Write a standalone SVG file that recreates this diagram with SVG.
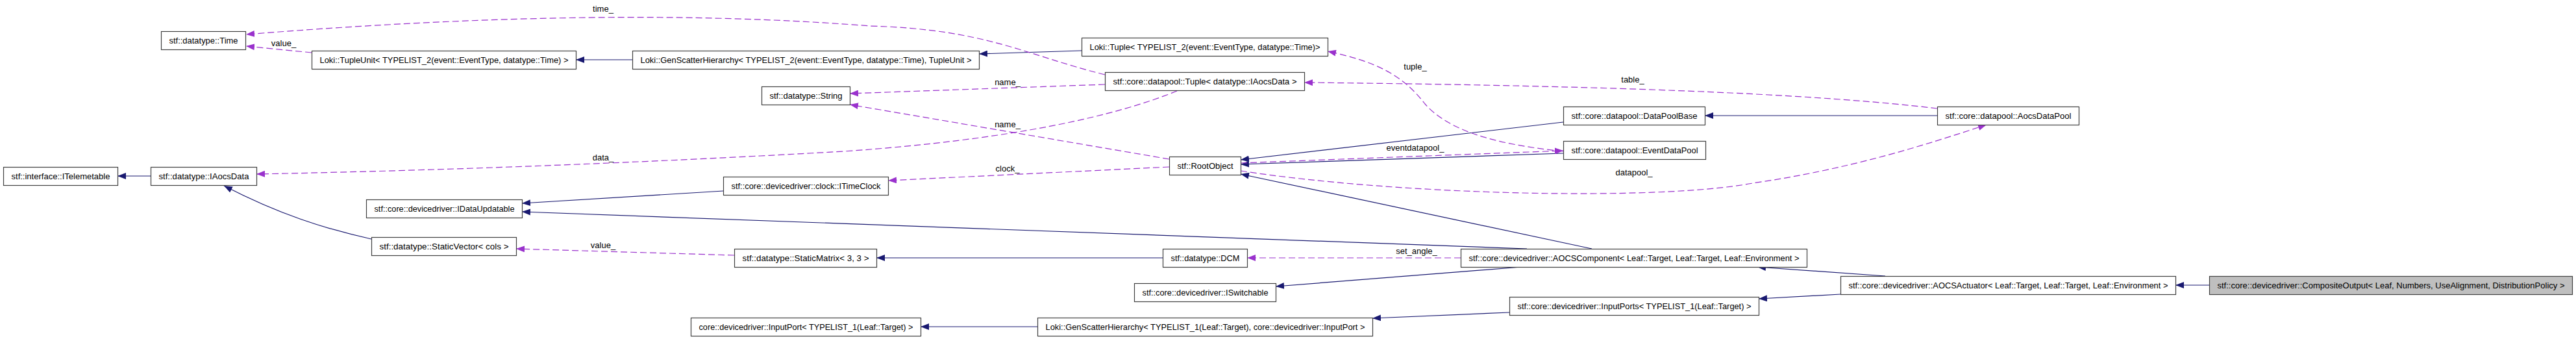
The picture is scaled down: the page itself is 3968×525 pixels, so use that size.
<svg xmlns="http://www.w3.org/2000/svg" width="3968" height="525" viewBox="0 0 3968 525">
<style>
.node rect{fill:#ffffff;stroke:#404040;stroke-width:1.2}
.node.focus rect{fill:#bfbfbf}
.node text{font-family:"Liberation Sans",Arial,sans-serif;font-size:13px;fill:#000;text-anchor:middle}
.lbl{font-family:"Liberation Sans",Arial,sans-serif;font-size:13px;fill:#000;text-anchor:middle}
.inh{fill:none;stroke:#191970;stroke-width:1.2;marker-end:url(#ah)}
.use{fill:none;stroke:#9a32cd;stroke-width:1.2;stroke-dasharray:10,5;marker-end:url(#au)}
</style>
<defs>
<marker id="ah" markerUnits="userSpaceOnUse" markerWidth="13" markerHeight="10" viewBox="0 0 13 10" refX="13" refY="5" orient="auto"><path d="M0,0 L13,5 L0,10 z" fill="#191970"/></marker>
<marker id="au" markerUnits="userSpaceOnUse" markerWidth="13" markerHeight="10" viewBox="0 0 13 10" refX="13" refY="5" orient="auto"><path d="M0,0 L13,5 L0,10 z" fill="#9a32cd"/></marker>
</defs>
<rect width="3968" height="525" fill="#ffffff"/>
<g id="edges">
<path class="inh" d="M232,271 L181,271"/>
<path class="inh" d="M572,368 C500,352 430,330 345,286"/>
<path class="inh" d="M974,92 L887,92"/>
<path class="inh" d="M1666,78 L1508,83"/>
<path class="inh" d="M1114,294 L804,313"/>
<path class="inh" d="M2352,383 Q1700,362 804,326"/>
<path class="inh" d="M1791,397 L1350,397"/>
<path class="inh" d="M2343,411 L1965,441"/>
<path class="inh" d="M2408,188 L1911,246"/>
<path class="inh" d="M2408,236 L1911,253"/>
<path class="inh" d="M2452,383 L1911,268"/>
<path class="inh" d="M2984,178 L2626,178"/>
<path class="inh" d="M2904,425 L2707,411"/>
<path class="inh" d="M2835,453 L2709,460"/>
<path class="inh" d="M2325,481 L2114,490"/>
<path class="inh" d="M1598,503 L1418,503"/>
<path class="inh" d="M3403,439 L3351,439"/>
<path class="use" d="M1702,115 C1580,85 1520,45 1340,40 C1150,25 850,15 379,53"/>
<text class="lbl" x="929" y="18">time_</text>
<path class="use" d="M480,81 L379,71"/>
<text class="lbl" x="437" y="71">value_</text>
<path class="use" d="M2408,233 C2300,222 2230,200 2195,160 C2160,115 2120,95 2045,79"/>
<text class="lbl" x="2180" y="107">tuple_</text>
<path class="use" d="M2984,167 C2800,145 2500,132 2009,127"/>
<text class="lbl" x="2515" y="127">table_</text>
<path class="use" d="M1702,130 L1309,144"/>
<text class="lbl" x="1552" y="131">name_</text>
<path class="use" d="M1801,245 L1309,161"/>
<text class="lbl" x="1552" y="196">name_</text>
<path class="use" d="M1813,140 C1720,178 1560,215 1300,233 C1000,250 700,262 395,268"/>
<text class="lbl" x="929" y="247">data_</text>
<path class="use" d="M1801,257 L1368,278"/>
<text class="lbl" x="1552" y="264">clock_</text>
<path class="use" d="M1911,251 L2408,232"/>
<text class="lbl" x="2180" y="232">eventdatapool_</text>
<path class="use" d="M1911,263 C2150,300 2550,310 2700,282 C2850,260 2960,225 3060,192"/>
<text class="lbl" x="2517" y="270">datapool_</text>
<path class="use" d="M2250,397 L1921,397"/>
<text class="lbl" x="2182" y="391">set_angle_</text>
<path class="use" d="M1131,393 L795,383"/>
<text class="lbl" x="929" y="382">value_</text>
</g>
<g id="n_ITelemetable" class="node"><rect x="5.5" y="257.5" width="176" height="28"/><text x="93.5" y="276" textLength="152" lengthAdjust="spacingAndGlyphs">stf::interface::ITelemetable</text></g>
<g id="n_IAocsData" class="node"><rect x="232.5" y="257.5" width="163" height="28"/><text x="314" y="276" textLength="139" lengthAdjust="spacingAndGlyphs">stf::datatype::IAocsData</text></g>
<g id="n_Time" class="node"><rect x="248.5" y="48.5" width="130" height="28"/><text x="313.5" y="67" textLength="106" lengthAdjust="spacingAndGlyphs">stf::datatype::Time</text></g>
<g id="n_TupleUnit" class="node"><rect x="480.5" y="78.5" width="407" height="28"/><text x="684" y="97" textLength="383" lengthAdjust="spacingAndGlyphs">Loki::TupleUnit&lt; TYPELIST_2(event::EventType, datatype::Time) &gt;</text></g>
<g id="n_GenScatter2" class="node"><rect x="974.5" y="78.5" width="534" height="28"/><text x="1241.5" y="97" textLength="510" lengthAdjust="spacingAndGlyphs">Loki::GenScatterHierarchy&lt; TYPELIST_2(event::EventType, datatype::Time), TupleUnit &gt;</text></g>
<g id="n_LokiTuple" class="node"><rect x="1666.5" y="58.5" width="379" height="28"/><text x="1856" y="77" textLength="355" lengthAdjust="spacingAndGlyphs">Loki::Tuple&lt; TYPELIST_2(event::EventType, datatype::Time)&gt;</text></g>
<g id="n_String" class="node"><rect x="1173.5" y="133.5" width="136" height="28"/><text x="1241.5" y="152" textLength="112" lengthAdjust="spacingAndGlyphs">stf::datatype::String</text></g>
<g id="n_DPTuple" class="node"><rect x="1702.5" y="111.5" width="307" height="28"/><text x="1856" y="130" textLength="283" lengthAdjust="spacingAndGlyphs">stf::core::datapool::Tuple&lt; datatype::IAocsData &gt;</text></g>
<g id="n_RootObject" class="node"><rect x="1801.5" y="241.5" width="110" height="28"/><text x="1856.5" y="260" textLength="86" lengthAdjust="spacingAndGlyphs">stf::RootObject</text></g>
<g id="n_ITimeClock" class="node"><rect x="1114.5" y="272.5" width="254" height="28"/><text x="1241.5" y="291" textLength="230" lengthAdjust="spacingAndGlyphs">stf::core::devicedriver::clock::ITimeClock</text></g>
<g id="n_IDataUpdatable" class="node"><rect x="564.5" y="307.5" width="240" height="28"/><text x="684.5" y="326" textLength="216" lengthAdjust="spacingAndGlyphs">stf::core::devicedriver::IDataUpdatable</text></g>
<g id="n_StaticVector" class="node"><rect x="572.5" y="365.5" width="223" height="28"/><text x="684" y="384" textLength="199" lengthAdjust="spacingAndGlyphs">stf::datatype::StaticVector&lt; cols &gt;</text></g>
<g id="n_StaticMatrix" class="node"><rect x="1131.5" y="383.5" width="219" height="28"/><text x="1241" y="402" textLength="195" lengthAdjust="spacingAndGlyphs">stf::datatype::StaticMatrix&lt; 3, 3 &gt;</text></g>
<g id="n_DCM" class="node"><rect x="1791.5" y="383.5" width="130" height="28"/><text x="1856.5" y="402" textLength="106" lengthAdjust="spacingAndGlyphs">stf::datatype::DCM</text></g>
<g id="n_ISwitchable" class="node"><rect x="1747.5" y="436.5" width="218" height="28"/><text x="1856.5" y="455" textLength="194" lengthAdjust="spacingAndGlyphs">stf::core::devicedriver::ISwitchable</text></g>
<g id="n_InputPort" class="node"><rect x="1064.5" y="489.5" width="354" height="28"/><text x="1241.5" y="508" textLength="330" lengthAdjust="spacingAndGlyphs">core::devicedriver::InputPort&lt; TYPELIST_1(Leaf::Target) &gt;</text></g>
<g id="n_GenScatter1" class="node"><rect x="1598.5" y="489.5" width="516" height="28"/><text x="1856.5" y="508" textLength="492" lengthAdjust="spacingAndGlyphs">Loki::GenScatterHierarchy&lt; TYPELIST_1(Leaf::Target), core::devicedriver::InputPort &gt;</text></g>
<g id="n_DataPoolBase" class="node"><rect x="2408.5" y="164.5" width="218" height="28"/><text x="2517.5" y="183" textLength="194" lengthAdjust="spacingAndGlyphs">stf::core::datapool::DataPoolBase</text></g>
<g id="n_EventDataPool" class="node"><rect x="2408.5" y="217.5" width="219" height="28"/><text x="2518" y="236" textLength="195" lengthAdjust="spacingAndGlyphs">stf::core::datapool::EventDataPool</text></g>
<g id="n_AocsDataPool" class="node"><rect x="2984.5" y="164.5" width="218" height="28"/><text x="3093.5" y="183" textLength="194" lengthAdjust="spacingAndGlyphs">stf::core::datapool::AocsDataPool</text></g>
<g id="n_AOCSComponent" class="node"><rect x="2250.5" y="383.5" width="533" height="28"/><text x="2517" y="402" textLength="509" lengthAdjust="spacingAndGlyphs">stf::core::devicedriver::AOCSComponent&lt; Leaf::Target, Leaf::Target, Leaf::Environment &gt;</text></g>
<g id="n_InputPorts" class="node"><rect x="2325.5" y="457.5" width="384" height="28"/><text x="2517.5" y="476" textLength="360" lengthAdjust="spacingAndGlyphs">stf::core::devicedriver::InputPorts&lt; TYPELIST_1(Leaf::Target) &gt;</text></g>
<g id="n_AOCSActuator" class="node"><rect x="2835.5" y="425.5" width="516" height="28"/><text x="3093.5" y="444" textLength="492" lengthAdjust="spacingAndGlyphs">stf::core::devicedriver::AOCSActuator&lt; Leaf::Target, Leaf::Target, Leaf::Environment &gt;</text></g>
<g id="n_CompositeOutput" class="node focus"><rect x="3403.5" y="425.5" width="559" height="28"/><text x="3683" y="444" textLength="535" lengthAdjust="spacingAndGlyphs">stf::core::devicedriver::CompositeOutput&lt; Leaf, Numbers, UseAlignment, DistributionPolicy &gt;</text></g>
</svg>
